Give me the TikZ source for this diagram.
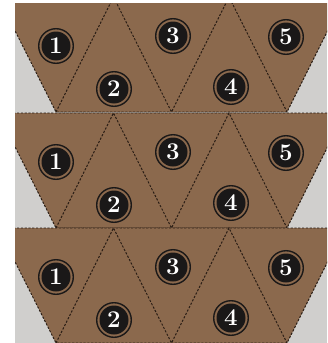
\documentclass[tikz,border=0pt]{standalone}
\usepackage{fontspec}
\definecolor{panelgray}{RGB}{208,207,205}
\definecolor{feltbrown}{RGB}{139,105,77}
\definecolor{stitch}{RGB}{40,28,20}
\definecolor{disc}{RGB}{26,24,24}
\begin{document}
\begin{tikzpicture}[x=1pt,y=-1pt,
  stitchline/.style={draw=stitch, line width=0.95pt, dash pattern=on 2.2pt off 1.6pt},
  badge/.style={circle, fill=disc, minimum size=29pt, inner sep=0pt, text=white,
    font=\fontsize{24}{24}\selectfont\bfseries},
  ringline/.style={draw=disc, line width=1.4pt}]
\path[use as bounding box] (0,0) rectangle (327,343);
\begin{scope}
  \clip (15,3) rectangle (327,343);
  \fill[panelgray] (15,3) rectangle (327,343);
  \foreach \T [count=\r] in {-3,113,228}{
    \pgfmathsetmacro\B{\T+115}
    \coordinate (a\r) at (-2,\T);
    \coordinate (c\r) at (113.5,\T);
    \coordinate (e\r) at (229,\T);
    \coordinate (g\r) at (344.5,\T);
    \coordinate (b\r) at (56,\B);
    \coordinate (d\r) at (171.5,\B);
    \coordinate (f\r) at (287,\B);
    \fill[feltbrown] (a\r) -- (g\r) -- (f\r) -- (b\r) -- cycle;
    \draw[stitchline] (a\r) -- (g\r) -- (f\r) -- (b\r) -- cycle;
    \draw[stitchline] (b\r) -- (c\r) -- (d\r) -- (e\r) -- (f\r);
  }
\end{scope}
\foreach \T [count=\r] in {-3,113,228}{
  \foreach \n/\x/\dy in {1/56/49, 2/114/92, 3/173/39, 4/231/90, 5/286/40}{
    \node[badge] (n\r-\n) at (\x,\T+\dy) {\n};
    \draw[ringline] (n\r-\n.center) circle (17.3pt);
  }
}
\end{tikzpicture}
\end{document}
